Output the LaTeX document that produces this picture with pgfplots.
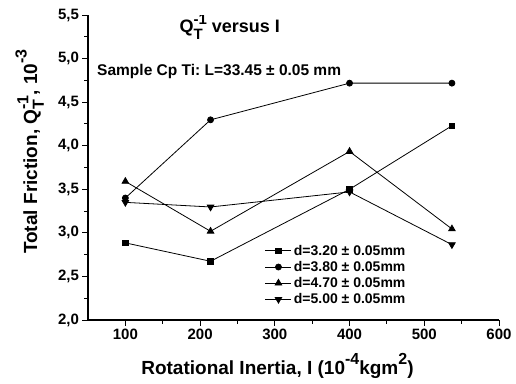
\documentclass[border=0pt]{standalone}
\usepackage{pgfplots}
\pgfplotsset{compat=1.18}
\usepackage{fontspec}
\setmainfont{Liberation Sans}
\newcommand{\fs}[1]{\fontsize{#1}{#1}\selectfont}
\newcommand{\sups}[1]{\raisebox{0.55em}{\fs{16}#1}}
\newcommand{\QT}{Q\rlap{\raisebox{-0.36em}{\fs{16}T}}\raisebox{0.45em}{\fs{16}-1}}
\newcommand{\QTt}{Q\rlap{\raisebox{-0.36em}{\fs{15}T}}\raisebox{0.45em}{\fs{15}-1}}
\begin{document}
\frenchspacing
\begin{tikzpicture}
\useasboundingbox (-88pt,-63pt) rectangle (428pt,320pt);
\begin{axis}[
  at={(0,0)}, anchor=south west,
  scale only axis, width=411pt, height=305pt,
  xmin=50, xmax=600, ymin=2, ymax=5.5,
  xtick={100,200,...,600}, ytick={2,2.5,...,5.5},
  minor x tick num=1, minor y tick num=1,
  axis x line*=bottom, axis y line*=left,
  axis line style={line width=1.3pt},
  tick align=outside,
  major tick length=5.5pt, minor tick length=3.5pt,
  every tick/.style={line width=1pt, black},
  tick label style={font=\bfseries\fs{15}},
  yticklabel style={/pgf/number format/.cd, use comma, fixed, fixed zerofill, precision=1},
  /pgf/number format/assume math mode=true,
  xlabel={Rotational Inertia, I (10\sups{-4}kgm\sups{2})},
  ylabel={Total Friction, \QT, 10\sups{-3}},
  label style={font=\bfseries\fs{19}},
  xlabel style={at={(axis description cs:0.461,-0.18)}, anchor=base},
  ylabel style={at={(axis description cs:-0.124,0.552)}, anchor=base},
  legend style={draw=none, fill=none, at={(axis description cs:0.423,0.035)}, anchor=south west, font=\bfseries\fs{14}, row sep=0.5pt},
  legend cell align=left,
  legend image code/.code={\draw[mark repeat=2,mark phase=2] plot coordinates {(0pt,0pt)(13pt,0pt)(26pt,0pt)};},
  every axis plot/.append style={black, line width=0.8pt, mark options={solid}},
]
\addplot[mark=square*, mark size=2.8pt] coordinates {(100,2.885)(214,2.674)(400,3.50)(537,4.229)};
\addlegendentry{d=3.20 ± 0.05mm}
\addplot[mark=*, mark size=3pt] coordinates {(100,3.40)(214,4.297)(400,4.718)(537,4.718)};
\addlegendentry{d=3.80 ± 0.05mm}
\addplot[mark=triangle*, mark size=3.8pt] coordinates {(100,3.59)(214,3.018)(400,3.934)(537,3.045)};
\addlegendentry{d=4.70 ± 0.05mm}
\addplot[mark=triangle*, mark size=3.8pt, mark options={rotate=180}] coordinates {(100,3.35)(214,3.297)(400,3.47)(537,2.865)};
\addlegendentry{d=5.00 ± 0.05mm}
\node[font=\bfseries\fs{18}, anchor=base] at (axis description cs:0.345,0.941) {\QTt\ versus I};
\node[font=\bfseries\fs{15.5}, anchor=base west, inner sep=0pt] at (axis description cs:0.022,0.803) {Sample Cp Ti: L=33.45 ± 0.05 mm};
\end{axis}
\end{tikzpicture}
\end{document}
